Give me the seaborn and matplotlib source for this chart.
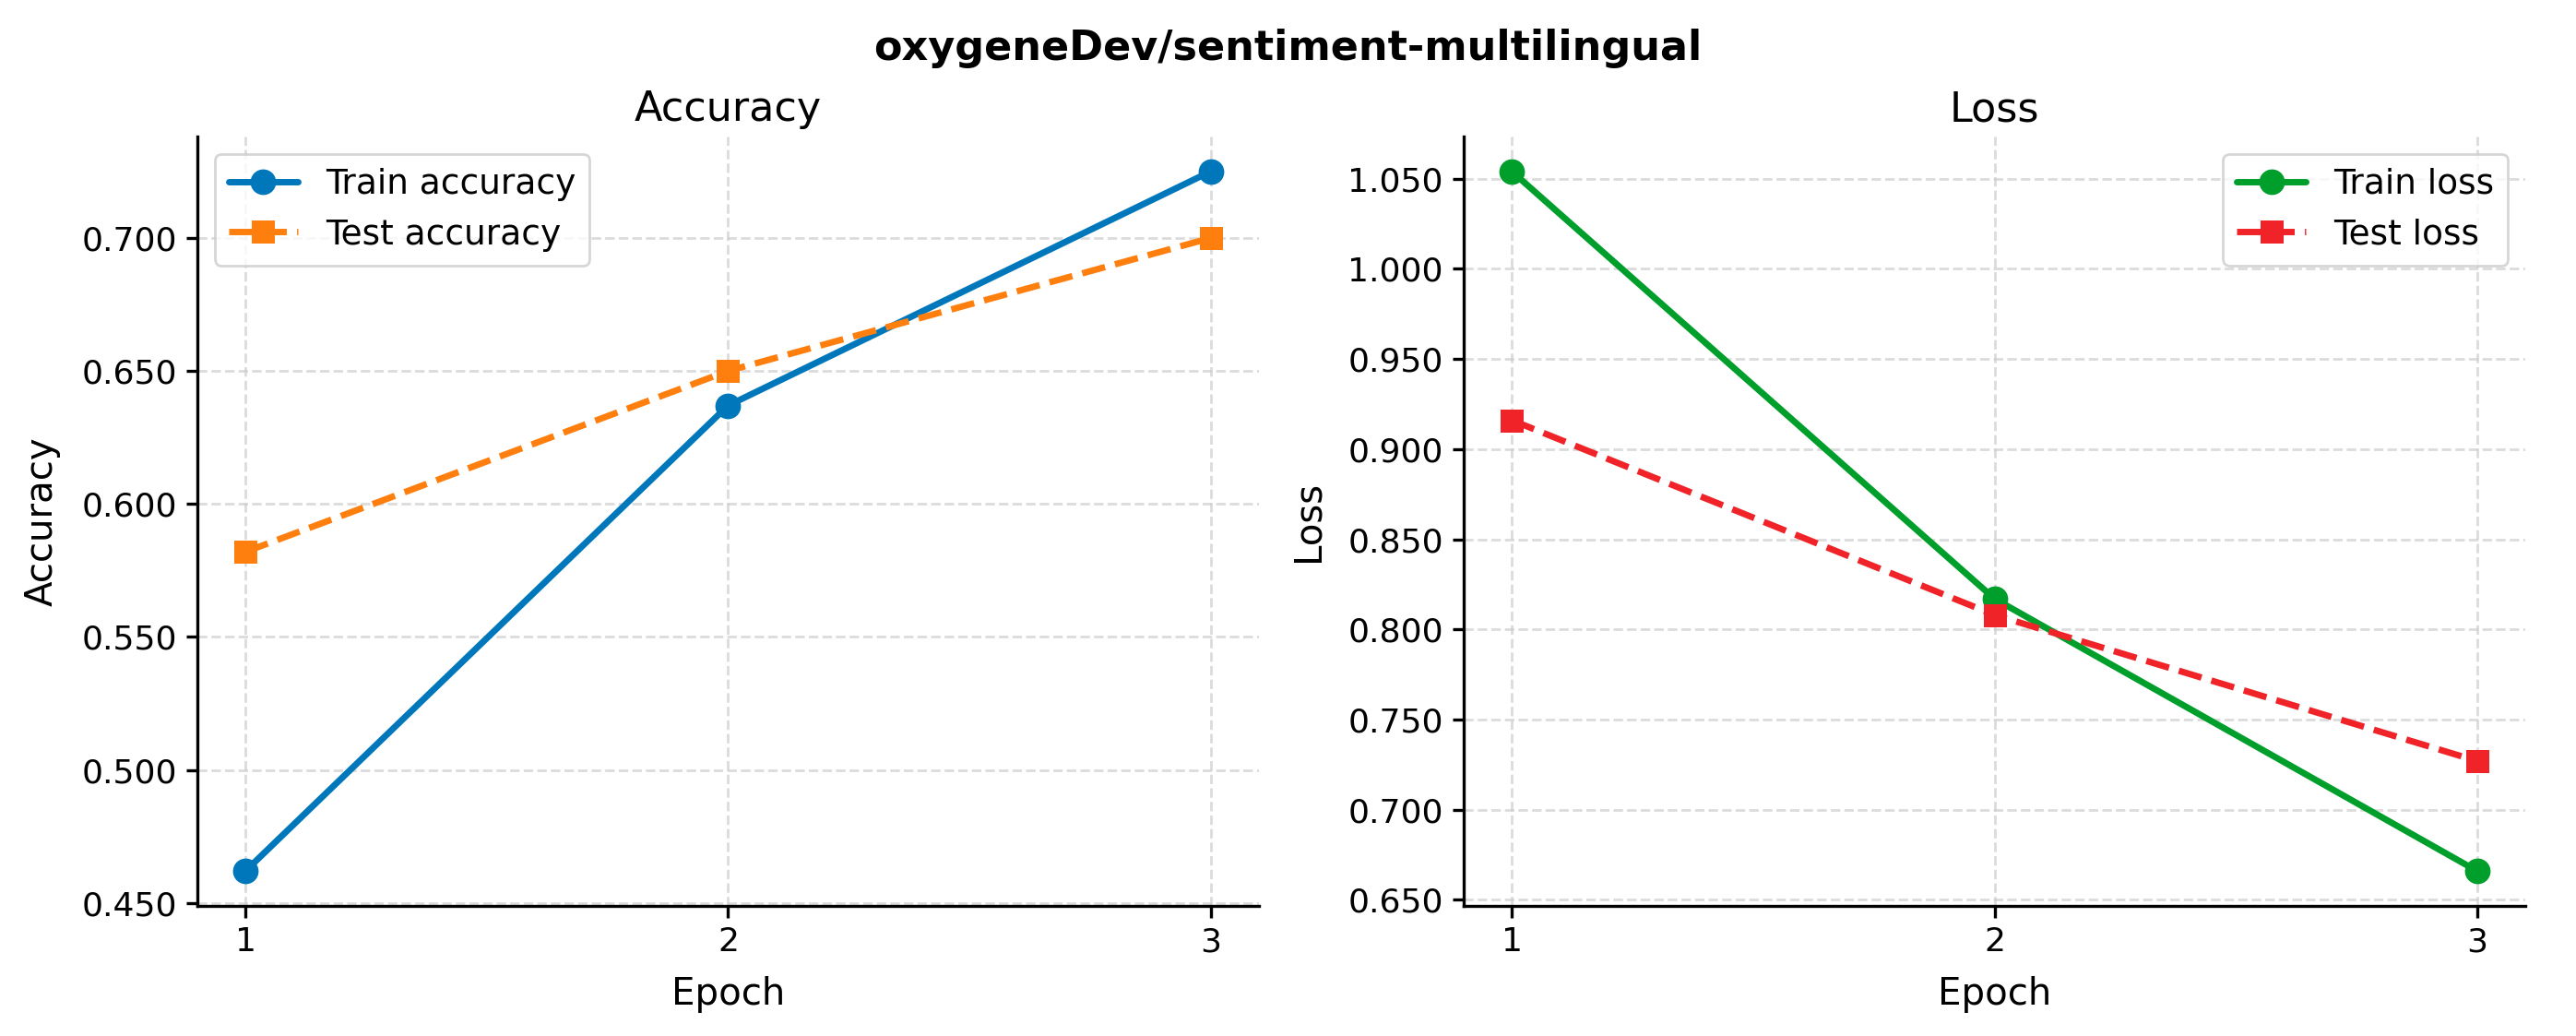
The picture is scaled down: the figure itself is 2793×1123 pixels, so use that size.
import pandas as pd
import matplotlib
matplotlib.use('Agg')
import matplotlib.pyplot as plt
import seaborn as sns
from matplotlib.ticker import FormatStrFormatter

# dados
epochs = [1, 2, 3]
train_acc = [0.462, 0.637, 0.725]
test_acc = [0.582, 0.650, 0.700]
train_loss = [1.054, 0.817, 0.666]
test_loss = [0.916, 0.808, 0.727]

sns.set_theme(style='ticks')
plt.rcParams['font.family'] = ['DejaVu Sans']
# texto preto como no original
plt.rcParams['text.color'] = 'black'
plt.rcParams['axes.labelcolor'] = 'black'
plt.rcParams['xtick.color'] = 'black'
plt.rcParams['ytick.color'] = 'black'

fig, axes = plt.subplots(1, 2, figsize=(13.965, 5.615), dpi=200)
plt.subplots_adjust(left=0.0766, right=0.9803, bottom=0.1256, top=0.8682, wspace=0.193)

# grafico de acuracia
ax = axes[0]
sns.lineplot(x=epochs, y=train_acc, ax=ax, color='#0077BB', marker='o', markersize=10,
             linewidth=2.5, markeredgewidth=0, label='Train accuracy')
sns.lineplot(x=epochs, y=test_acc, ax=ax, color='#FF7F0E', marker='s', markersize=9,
             linewidth=2.5, markeredgewidth=0, linestyle='--', label='Test accuracy')
ax.set_title('Accuracy', fontsize=16)
ax.set_ylabel('Accuracy', fontsize=14.5, labelpad=8)
ax.legend(loc='upper left', fontsize=13.5)

# grafico de perda
ax = axes[1]
sns.lineplot(x=epochs, y=train_loss, ax=ax, color='#009E2A', marker='o', markersize=10,
             linewidth=2.5, markeredgewidth=0, label='Train loss')
sns.lineplot(x=epochs, y=test_loss, ax=ax, color='#F02428', marker='s', markersize=9,
             linewidth=2.5, markeredgewidth=0, linestyle='--', label='Test loss')
ax.set_title('Loss', fontsize=16)
ax.set_ylabel('Loss', fontsize=14.5, labelpad=8)
ax.legend(loc='upper right', fontsize=13.5)

for ax in axes:
    ax.set_xlabel('Epoch', fontsize=14.5, labelpad=7)
    ax.set_xticks(epochs)
    ax.yaxis.set_major_formatter(FormatStrFormatter('%.3f'))
    ax.tick_params(labelsize=13, length=4.5, width=1.2)
    ax.grid(True, linestyle='--', color='#cccccc', alpha=0.7, linewidth=1)
    for s in ['left', 'bottom']:
        ax.spines[s].set_linewidth(1.2)
        ax.spines[s].set_color('black')
    sns.despine(ax=ax)

fig.suptitle('oxygeneDev/sentiment-multilingual', fontsize=16, fontweight='bold', y=0.972)
plt.savefig('out.png', dpi=200)
